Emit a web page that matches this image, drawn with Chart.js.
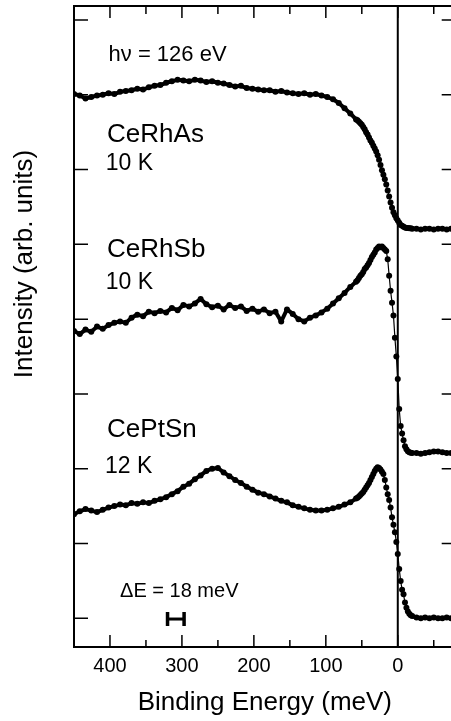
<!DOCTYPE html>
<html>
<head>
<meta charset="utf-8">
<script src="https://cdn.jsdelivr.net/npm/chart.js@4/dist/chart.umd.min.js"></script>
<style>
html, body { margin: 0; padding: 0; overflow: hidden; background: #fff; }
canvas { display: block; }
</style>
</head>
<body>
<canvas id="chart" width="460" height="721"></canvas>
<script>
// binding energy (meV) of each sample point
const energy = [
  450, 442, 434, 426, 418, 410, 402, 394, 386, 378, 370, 362, 354, 346, 338, 330, 322, 314, 306, 298,
  290, 282, 274, 266, 258, 250, 242, 234, 226, 218, 210, 202, 194, 186, 178, 170, 162, 154, 146, 138,
  130, 122, 114, 106, 98, 90, 82, 74, 66, 58,
  56, 54, 52, 50, 48, 46, 44, 42, 40, 38, 36, 34, 32, 30, 28, 26, 24, 22, 20, 18,
  16, 14, 12, 10, 8, 6, 4, 2, 0, -2, -4, -6, -8, -10, -12, -14, -16, -18, -20,
  -26, -32, -38, -44, -50, -56, -62, -68, -74, -80
];

// intensities (arb. units, offset curves)
const ceRhAs = [
  7.01, 6.99, 6.95, 6.97, 6.99, 7.00, 7.02, 7.01, 7.04, 7.05, 7.06, 7.08, 7.07, 7.10, 7.12, 7.13, 7.16, 7.18, 7.20, 7.19,
  7.18, 7.20, 7.19, 7.17, 7.18, 7.16, 7.15, 7.13, 7.11, 7.12, 7.09, 7.08, 7.07, 7.06, 7.06, 7.04, 7.05, 7.03, 7.02, 7.01,
  7.02, 7.00, 7.01, 6.99, 6.97, 6.94, 6.89, 6.82, 6.75, 6.67,
  6.66, 6.64, 6.62, 6.60, 6.57, 6.54, 6.50, 6.47, 6.43, 6.39, 6.36, 6.32, 6.28, 6.24, 6.19, 6.13, 6.06, 5.99, 5.93, 5.87,
  5.80, 5.72, 5.64, 5.56, 5.49, 5.43, 5.39, 5.35, 5.32, 5.29, 5.26, 5.25, 5.235, 5.225, 5.22, 5.22, 5.215, 5.215, 5.21,
  5.21, 5.20, 5.21, 5.21, 5.20, 5.21, 5.21, 5.20, 5.21, 5.21
];

const ceRhSb = [
  3.84, 3.80, 3.86, 3.83, 3.90, 3.87, 3.92, 3.95, 3.97, 3.95, 4.02, 4.06, 4.04, 4.10, 4.08, 4.11, 4.09, 4.15, 4.12, 4.19,
  4.17, 4.21, 4.27, 4.20, 4.16, 4.18, 4.13, 4.19, 4.15, 4.17, 4.11, 4.14, 4.10, 4.13, 4.08, 4.10, 3.97, 4.13, 4.07, 4.00,
  3.97, 4.02, 4.05, 4.09, 4.14, 4.21, 4.28, 4.35, 4.43, 4.50,
  4.52, 4.55, 4.58, 4.60, 4.63, 4.67, 4.69, 4.72, 4.75, 4.79, 4.83, 4.86, 4.89, 4.93, 4.95, 4.97, 4.96, 4.97, 4.95, 4.93,
  4.91, 4.80, 4.58, 4.38, 4.22, 4.05, 3.75, 3.50, 3.20, 2.80, 2.57, 2.47, 2.38, 2.30, 2.26, 2.235, 2.22, 2.215, 2.21,
  2.21, 2.20, 2.21, 2.22, 2.23, 2.23, 2.22, 2.21, 2.21, 2.21
];

const cePtSn = [
  1.39, 1.43, 1.46, 1.44, 1.42, 1.45, 1.48, 1.50, 1.52, 1.51, 1.54, 1.53, 1.55, 1.54, 1.57, 1.59, 1.62, 1.66, 1.70, 1.76,
  1.80, 1.86, 1.91, 1.97, 2.00, 2.01, 1.95, 1.90, 1.85, 1.81, 1.76, 1.72, 1.68, 1.66, 1.63, 1.60, 1.57, 1.55, 1.51, 1.49,
  1.47, 1.45, 1.44, 1.44, 1.45, 1.47, 1.49, 1.52, 1.55, 1.60,
  1.61, 1.63, 1.65, 1.67, 1.69, 1.72, 1.75, 1.78, 1.81, 1.85, 1.89, 1.93, 1.97, 2.00, 2.02, 2.01, 1.99, 1.96, 1.93, 1.85,
  1.75, 1.66, 1.58, 1.48, 1.35, 1.25, 1.15, 1.02, 0.86, 0.66, 0.50, 0.38, 0.32, 0.21, 0.14, 0.09, 0.06, 0.04, 0.03,
  0.01, 0.00, 0.01, 0.00, 0.01, 0.00, 0.00, 0.01, 0.00, 0.00
];

const xMajorTicks = [400, 300, 200, 100, 0];
const xMinorTicks = [350, 250, 150, 50, -50];
const yTicks = [0, 1, 2, 3, 4, 5, 6, 7, 8];

const xTitle = 'Binding Energy (meV)';
const yTitle = 'Intensity (arb. units)';

// text annotations, placed in data coordinates
const notes = [
  { text: 'h\u03bd = 126 eV', x: 402, y: 7.45, size: 22 },
  { text: 'CeRhAs', x: 404, y: 6.37, size: 26 },
  { text: '10 K', x: 406, y: 5.99, size: 23 },
  { text: 'CeRhSb', x: 404, y: 4.83, size: 26 },
  { text: '10 K', x: 406, y: 4.40, size: 23 },
  { text: 'CePtSn', x: 404, y: 2.42, size: 26 },
  { text: '12 K', x: 407, y: 1.94, size: 23 },
  { text: '\u0394E = 18 meV', x: 386, y: 0.29, size: 20 }
];
// resolution bar (meV)
const resolution = { from: 320, to: 297, y: -0.01 };

const FONT = '"Liberation Sans", Arial, Helvetica, sans-serif';

const toPoints = vals => energy.map((e, i) => ({ x: e, y: vals[i] }));

// thick trace where the curve is flat, thin where it falls steeply
const segWidth = ctx => {
  const dx = Math.abs(ctx.p1.x - ctx.p0.x);
  const dy = Math.abs(ctx.p1.y - ctx.p0.y);
  return dy > 2.5 * dx ? 1.2 : 4;
};

const framePlugin = {
  id: 'frame',
  afterDatasetsDraw(chart) {
    const { ctx, chartArea: a, scales: { x, y } } = chart;
    ctx.save();
    ctx.strokeStyle = '#000';
    ctx.fillStyle = '#000';

    // box
    ctx.lineWidth = 2;
    ctx.strokeRect(a.left, a.top, a.right - a.left, a.bottom - a.top);

    // E = 0 line
    const x0 = x.getPixelForValue(0);
    ctx.beginPath();
    ctx.moveTo(x0, a.top);
    ctx.lineTo(x0, a.bottom);
    ctx.stroke();

    // ticks, pointing inward
    ctx.lineWidth = 1.5;
    ctx.beginPath();
    xMajorTicks.forEach(v => {
      const px = x.getPixelForValue(v);
      ctx.moveTo(px, a.bottom); ctx.lineTo(px, a.bottom - 12);
      ctx.moveTo(px, a.top); ctx.lineTo(px, a.top + 12);
    });
    xMinorTicks.forEach(v => {
      const px = x.getPixelForValue(v);
      ctx.moveTo(px, a.bottom); ctx.lineTo(px, a.bottom - 7);
      ctx.moveTo(px, a.top); ctx.lineTo(px, a.top + 8);
    });
    yTicks.forEach(v => {
      const py = y.getPixelForValue(v);
      ctx.moveTo(a.left, py); ctx.lineTo(a.left + 14, py);
      ctx.moveTo(a.right, py); ctx.lineTo(a.right - 14, py);
    });
    ctx.stroke();

    // tick labels
    ctx.font = '20px ' + FONT;
    ctx.textAlign = 'center';
    ctx.textBaseline = 'alphabetic';
    xMajorTicks.forEach(v => {
      ctx.fillText(String(v), x.getPixelForValue(v), a.bottom + 25);
    });

    // axis titles
    ctx.font = '26px ' + FONT;
    ctx.fillText(xTitle, (a.left + a.right) / 2, a.bottom + 63);
    ctx.save();
    ctx.translate(32, 264);
    ctx.rotate(-Math.PI / 2);
    ctx.fillText(yTitle, 0, 0);
    ctx.restore();

    // annotations
    ctx.textAlign = 'left';
    notes.forEach(n => {
      ctx.font = n.size + 'px ' + FONT;
      ctx.fillText(n.text, x.getPixelForValue(n.x), y.getPixelForValue(n.y));
    });

    // resolution bar
    const r1 = x.getPixelForValue(resolution.from);
    const r2 = x.getPixelForValue(resolution.to);
    const ry = y.getPixelForValue(resolution.y);
    ctx.lineWidth = 3;
    ctx.beginPath();
    ctx.moveTo(r1, ry); ctx.lineTo(r2, ry);
    ctx.stroke();
    ctx.lineWidth = 3.5;
    ctx.beginPath();
    ctx.moveTo(r1, ry - 7); ctx.lineTo(r1, ry + 7);
    ctx.moveTo(r2, ry - 7); ctx.lineTo(r2, ry + 7);
    ctx.stroke();

    ctx.restore();
  }
};

const series = [
  { label: 'CeRhAs', values: ceRhAs },
  { label: 'CeRhSb', values: ceRhSb },
  { label: 'CePtSn', values: cePtSn }
];

new Chart(document.getElementById('chart'), {
  type: 'scatter',
  data: {
    datasets: series.map(s => ({
      label: s.label,
      data: toPoints(s.values),
      showLine: true,
      borderColor: '#000',
      borderWidth: 1.2,
      segment: { borderWidth: segWidth },
      borderJoinStyle: 'round',
      borderCapStyle: 'round',
      pointRadius: 3,
      pointBackgroundColor: '#000',
      pointBorderWidth: 0,
      pointHoverRadius: 0
    }))
  },
  options: {
    responsive: false,
    animation: false,
    events: [],
    layout: { padding: { left: 74, top: 6, right: 4.3, bottom: 74 } },
    plugins: { legend: { display: false }, tooltip: { enabled: false } },
    scales: {
      x: { type: 'linear', reverse: true, min: -80.5, max: 450, display: false },
      y: { type: 'linear', min: -0.384, max: 8.187, display: false }
    }
  },
  plugins: [framePlugin]
});
</script>
</body>
</html>
